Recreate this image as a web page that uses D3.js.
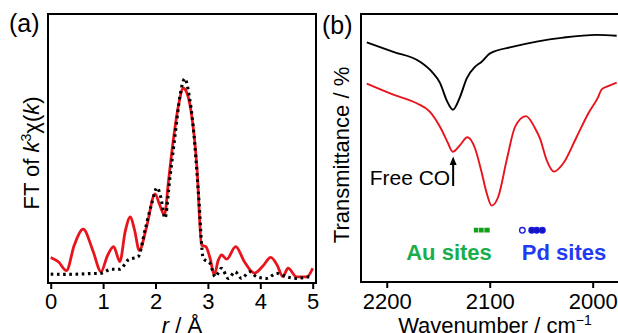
<!DOCTYPE html>
<html>
<head>
<meta charset="utf-8">
<script src="https://cdn.jsdelivr.net/npm/d3@7"></script>
<style>
  body { margin: 0; background: #fff; }
  svg { display: block; font-family: "Liberation Sans", Arial, sans-serif; }
</style>
</head>
<body>
<svg id="chart" width="618" height="333"></svg>
<script>
// (a) EXAFS: FT magnitude vs r (Å), arbitrary units
const rRed = [0, 0.15, 0.30, 0.45, 0.62, 0.80, 0.96, 1.08, 1.20, 1.32, 1.42, 1.52, 1.60, 1.69, 1.83, 1.99, 2.08, 2.17, 2.25, 2.34, 2.44, 2.53, 2.60, 2.68, 2.79, 2.88, 2.96, 3.04, 3.12, 3.20, 3.26, 3.36, 3.53, 3.70, 3.89, 4.05, 4.20, 4.32, 4.43, 4.53, 4.69, 4.89, 5.00]
const ftRed = [9.5, 7.8, 4.6, 14.1, 20.0, 12.3, 4.2, 10.0, 13.5, 8.0, 19.0, 24.6, 19.7, 12.1, 20.9, 33.1, 29.0, 25.3, 38.3, 53.2, 66.2, 72.4, 70.6, 63.6, 43.1, 14.1, 13.5, 9.3, 3.0, 8.6, 10.4, 8.9, 13.5, 7.8, 3.7, 6.3, 9.5, 6.7, 2.4, 5.5, 2.3, 2.3, 5.5]
const rFit = [0, 0.25, 0.53, 0.75, 0.95, 1.16, 1.32, 1.48, 1.67, 1.80, 1.92, 2.03, 2.10, 2.18, 2.27, 2.37, 2.47, 2.56, 2.64, 2.72, 2.82, 2.91, 3.04, 3.14, 3.26, 3.39, 3.52, 3.64, 3.80, 3.93, 4.12, 4.31, 4.50, 4.69, 4.95, 5.00]
const ftFit = [3.3, 3.2, 3.3, 3.5, 3.6, 5.1, 5.1, 8.6, 9.8, 19.7, 29.0, 35.4, 32.0, 24.1, 38.3, 54.4, 69.9, 76.0, 69.9, 58.1, 33.3, 9.2, 7.3, 2.3, 5.5, 1.7, 4.2, 1.7, 4.2, 2.3, 1.7, 3.6, 2.3, 1.7, 2.3, 2.2]
const rTicks = [0, 1, 2, 3, 4, 5]

// (b) IR spectra: transmittance (arbitrary) vs wavenumber
const wnBlack = [2219.4, 2193.6, 2167.7, 2156.3, 2148.3, 2141.2, 2135.7, 2128.8, 2122.3, 2114.3, 2107.8, 2099.7, 2077.1, 2054.4, 2028.5, 1996.1, 1976.7]
const tBlack = [89.4, 85.9, 82.2, 78.5, 74.3, 67.3, 64.3, 69.1, 76.0, 80.3, 82.2, 85.3, 87.8, 89.7, 91.2, 92.2, 91.9]
const wnRed = [2219.4, 2193.6, 2170.9, 2158.0, 2148.3, 2141.2, 2135.9, 2128.8, 2121.7, 2114.3, 2108.4, 2102.9, 2098.1, 2091.7, 2083.5, 2075.4, 2064.8, 2056.0, 2051.2, 2044.7, 2037.6, 2028.5, 2015.5, 2004.3, 1994.6, 1991.3, 1984.9, 1976.7]
const tRed = [74.0, 69.9, 66.7, 63.5, 57.9, 52.4, 48.6, 51.1, 54.0, 49.9, 41.8, 33.1, 28.5, 31.8, 45.5, 57.9, 61.9, 57.4, 53.6, 45.5, 41.2, 44.3, 54.2, 62.9, 69.1, 71.9, 73.1, 74.4]
const wnTicks = [2200, 2100, 2000]
const auSites = [2112.9, 2108.1, 2102.6]
const pdSites = [2068.3, 2059.2, 2054.4, 2048.9]
const freeCO = 2135.5

const svg = d3.select("#chart")
const font = 22

// ---------- panel (a) ----------
const a = { left: 48, right: 316, top: 14, bottom: 283 }
const xa = d3.scaleLinear().domain([-0.052, 5.063]).range([a.left, a.right])
const ya = d3.scaleLinear().domain([0, 100]).range([a.bottom, a.top])

const lineA = (xs, ys) => d3.line()
    .x((d, i) => xa(xs[i]))
    .y(d => ya(d))
    .curve(d3.curveMonotoneX)(ys)

svg.append("path")
    .attr("d", lineA(rRed, ftRed))
    .attr("fill", "none")
    .attr("stroke", "#e8141c")
    .attr("stroke-width", 2.8)

svg.append("path")
    .attr("d", lineA(rFit, ftFit))
    .attr("fill", "none")
    .attr("stroke", "#000")
    .attr("stroke-width", 3.1)
    .attr("stroke-dasharray", "2.6,3.6")

svg.append("rect")
    .attr("x", a.left).attr("y", a.top)
    .attr("width", a.right - a.left).attr("height", a.bottom - a.top)
    .attr("fill", "none").attr("stroke", "#000").attr("stroke-width", 2)

svg.append("g")
    .attr("transform", `translate(0,${a.bottom})`)
    .call(d3.axisBottom(xa).tickValues(rTicks).tickSize(6).tickPadding(4).tickFormat(d3.format("d")))
    .call(g => g.select(".domain").remove())
    .call(g => g.selectAll("line").attr("stroke-width", 2))
    .call(g => g.selectAll("text").attr("font-size", font).attr("font-family", null).attr("fill", "#000"))

svg.append("text")
    .attr("x", 182).attr("y", 333)
    .attr("text-anchor", "middle").attr("font-size", font)
    .call(t => t.append("tspan").attr("font-style", "italic").text("r"))
    .call(t => t.append("tspan").text(" / Å"))

svg.append("text")
    .attr("transform", "translate(39,153) rotate(-90)")
    .attr("text-anchor", "middle").attr("font-size", font)
    .call(t => t.append("tspan").text("FT of "))
    .call(t => t.append("tspan").attr("font-style", "italic").text("k"))
    .call(t => t.append("tspan").attr("font-size", 14).attr("dy", -8).text("3"))
    .call(t => t.append("tspan").attr("dy", 8).text("χ("))
    .call(t => t.append("tspan").attr("font-style", "italic").text("k"))
    .call(t => t.append("tspan").text(")"))

svg.append("text")
    .attr("x", 9).attr("y", 32).attr("font-size", 25).text("(a)")

// ---------- panel (b) ----------
const b = { left: 361, right: 620, top: 14, bottom: 282 }
const xb = d3.scaleLinear().domain([2225, 1976]).range([361, 617.4])
const yb = d3.scaleLinear().domain([0, 100]).range([b.bottom, b.top])

const lineB = (xs, ys) => d3.line()
    .x((d, i) => xb(xs[i]))
    .y(d => yb(d))
    .curve(d3.curveMonotoneX)(ys)

svg.append("path")
    .attr("d", lineB(wnBlack, tBlack))
    .attr("fill", "none").attr("stroke", "#000").attr("stroke-width", 1.9)

svg.append("path")
    .attr("d", lineB(wnRed, tRed))
    .attr("fill", "none").attr("stroke", "#e8141c").attr("stroke-width", 1.9)

svg.append("rect")
    .attr("x", b.left).attr("y", b.top)
    .attr("width", b.right - b.left).attr("height", b.bottom - b.top)
    .attr("fill", "none").attr("stroke", "#000").attr("stroke-width", 2)

svg.append("g")
    .attr("transform", `translate(0,${b.bottom})`)
    .call(d3.axisBottom(xb).tickValues(wnTicks).tickSize(6).tickPadding(5).tickFormat(d3.format("d")))
    .call(g => g.select(".domain").remove())
    .call(g => g.selectAll("line").attr("stroke-width", 2))
    .call(g => g.selectAll("text").attr("font-size", font).attr("font-family", null).attr("fill", "#000"))

svg.append("text")
    .attr("x", 495).attr("y", 333)
    .attr("text-anchor", "middle").attr("font-size", font)
    .call(t => t.append("tspan").text("Wavenumber / cm"))
    .call(t => t.append("tspan").attr("font-size", 14).attr("dy", -8).text("−1"))

svg.append("text")
    .attr("transform", "translate(349,155) rotate(-90)")
    .attr("text-anchor", "middle").attr("font-size", font)
    .text("Transmittance / %")

svg.append("text")
    .attr("x", 322).attr("y", 34).attr("font-size", 25).text("(b)")

// free CO annotation
const coX = xb(freeCO)
svg.append("text")
    .attr("x", coX - 3).attr("y", 185)
    .attr("text-anchor", "end").attr("font-size", 21)
    .text("Free CO")
svg.append("line")
    .attr("x1", coX).attr("x2", coX).attr("y1", 186).attr("y2", 163)
    .attr("stroke", "#000").attr("stroke-width", 2)
svg.append("path")
    .attr("d", `M${coX},156.5 L${coX - 3.5},165 L${coX + 3.5},165 Z`)
    .attr("fill", "#000")

// site markers
svg.append("g")
    .selectAll("rect")
    .data(auSites)
    .join("rect")
    .attr("x", d => xb(d) - 3)
    .attr("y", 227.3)
    .attr("width", 6).attr("height", 5.6)
    .attr("fill", "#12a01a").attr("stroke", "#fff").attr("stroke-width", 0.7)

svg.append("g")
    .selectAll("circle")
    .data(pdSites)
    .join("circle")
    .attr("cx", d => xb(d))
    .attr("cy", 230.3)
    .attr("r", 2.8)
    .attr("fill", (d, i) => i === 0 ? "#fff" : "#1414b8")
    .attr("stroke", "#1a1ae0").attr("stroke-width", 1.3)

svg.append("text")
    .attr("x", 449).attr("y", 259.5)
    .attr("text-anchor", "middle").attr("font-size", font).attr("font-weight", "bold")
    .attr("fill", "#1aad4b").text("Au sites")

svg.append("text")
    .attr("x", 564).attr("y", 259.5)
    .attr("text-anchor", "middle").attr("font-size", font).attr("font-weight", "bold")
    .attr("fill", "#1f3cf2").text("Pd sites")
</script>
</body>
</html>
